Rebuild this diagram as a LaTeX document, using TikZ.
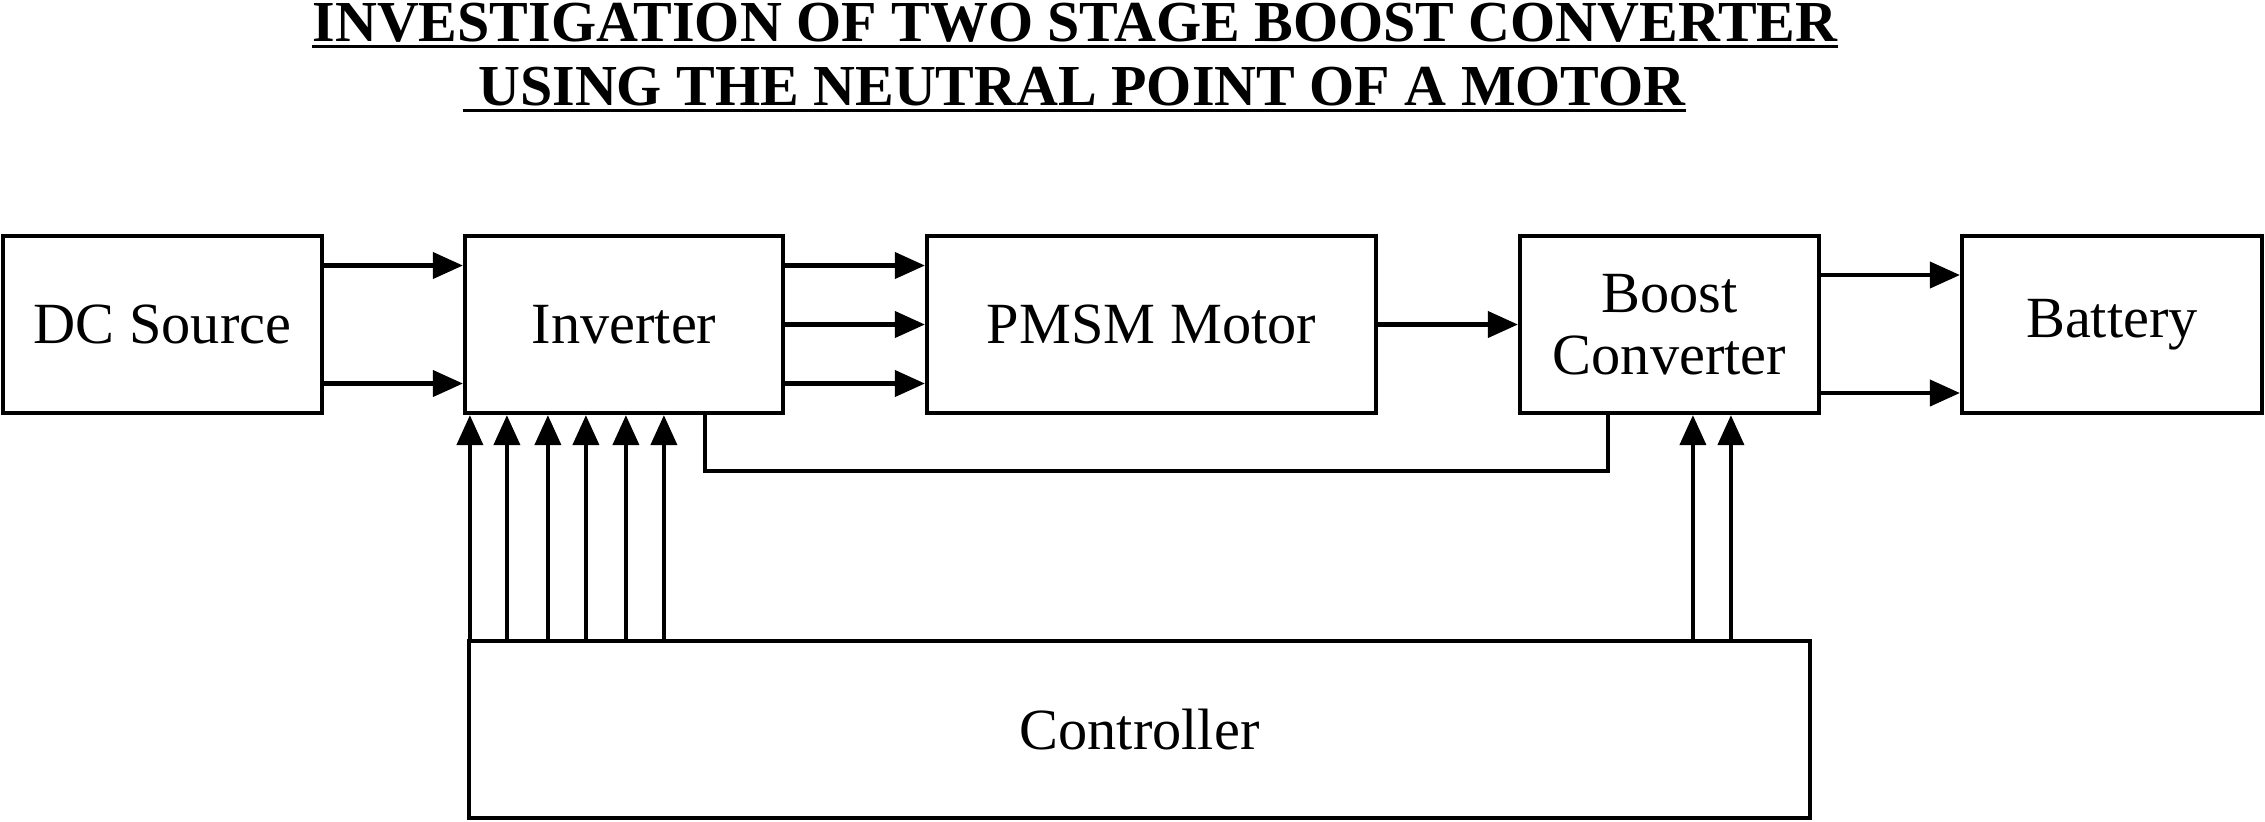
\documentclass[tikz,border=0pt]{standalone}
\usepackage{fontspec}
\setmainfont{Liberation Serif}
\usetikzlibrary{arrows.meta}

\begin{document}
\begin{tikzpicture}[x=0.1mm,y=-0.1mm,
  blk/.style={draw,line width=1.2pt,minimum height=17.7mm,inner sep=0pt,align=center,font=\fontsize{16.6}{17.6}\selectfont},
  sig/.style={line width=1.15pt,-{Triangle[length=3mm,width=2.6mm]}},
  wire/.style={line width=1.15pt},
  ttl/.style={inner sep=0pt,anchor=base,font=\fontsize{16.5}{19}\selectfont\bfseries},
  uline/.style={line width=1pt}]
\useasboundingbox (0,0) rectangle (2265,821);
% title
\node[ttl] (ttl1) at (1075,41.5) {INVESTIGATION OF TWO STAGE BOOST CONVERTER};
\node[ttl] (ttl2) at (1082,105.5) {USING THE NEUTRAL POINT OF A MOTOR};
\draw[uline] ([yshift=-0.5mm]ttl1.base west) -- ([yshift=-0.5mm]ttl1.base east);
\draw[uline] ([xshift=-1.5mm,yshift=-0.5mm]ttl2.base west) -- ([yshift=-0.5mm]ttl2.base east);
% blocks
\node[blk,minimum width=31.9mm] (dc) at (162.5,324.5) {DC Source};
\node[blk,minimum width=31.8mm] (inv) at (624,324.5) {Inverter};
\node[blk,minimum width=44.9mm] (pmsm) at (1151.5,324.5) {PMSM Motor};
\node[blk,minimum width=29.9mm] (boost) at (1669.5,324.5) {Boost\\Converter};
\node[blk,minimum width=30mm] (batt) at (2112,324.5) {Battery};
\node[blk,minimum width=134.1mm] (ctrl) at (1139.5,729.5) {Controller};
% power path
\draw[sig] ([yshift=5.9mm]dc.east) -- ([yshift=5.9mm]inv.west);
\draw[sig] ([yshift=-5.9mm]dc.east) -- ([yshift=-5.9mm]inv.west);
\foreach \s in {5.9,0,-5.9}
  \draw[sig] ([yshift=\s mm]inv.east) -- ([yshift=\s mm]pmsm.west);
\draw[sig] (pmsm) -- (boost);
\draw[sig] ([yshift=4.95mm]boost.east) -- ([yshift=4.95mm]batt.west);
\draw[sig] ([yshift=-6.85mm]boost.east) -- ([yshift=-6.85mm]batt.west);
% gate signals
\foreach \d [count=\i] in {0.7,4.4,8.5,12.3,16.3,20.1} {
  \coordinate (g\i) at ([xshift=\d mm]inv.south west);
  \draw[sig] (g\i |- ctrl.north) -- (g\i);
}
\foreach \d [count=\i] in {17.5,21.3} {
  \coordinate (b\i) at ([xshift=\d mm]boost.south west);
  \draw[sig] (b\i |- ctrl.north) -- (b\i);
}
% neutral point link
\coordinate (fb1) at ([xshift=24.2mm]inv.south west);
\coordinate (fb2) at ([xshift=9mm]boost.south west);
\draw[wire] (fb1) -- ++(0,-5.6mm) -| (fb2);
\end{tikzpicture}
\end{document}
